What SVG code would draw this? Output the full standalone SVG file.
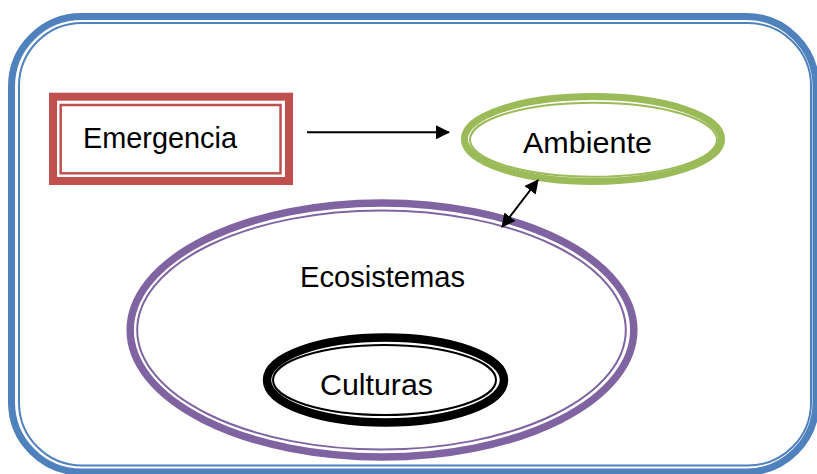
<svg xmlns="http://www.w3.org/2000/svg" width="817" height="474" viewBox="0 0 817 474">
<defs>
<style>
.lbl{font-family:"Comic Sans MS","Liberation Sans",sans-serif;font-size:29px;fill:#000}
.conn{stroke:#000;stroke-width:2;fill:none}
</style>
<marker id="ah" viewBox="0 0 14 14" refX="13" refY="7" markerWidth="14" markerHeight="14" markerUnits="userSpaceOnUse" orient="auto-start-reverse">
<path d="M0,0 L14,7 L0,14 Z" fill="#000"/>
</marker>
</defs>
<rect width="817" height="474" fill="#fff"/>
<g id="frame">
<rect x="11.5" y="16.5" width="804.5" height="455.5" rx="70" ry="70" fill="none" stroke="#4F81BD" stroke-width="7"/>
<rect x="19" y="23" width="792" height="442.5" rx="63" ry="63" fill="none" stroke="#4F81BD" stroke-width="2"/>
</g>
<g id="emergencia">
<rect x="53" y="96.7" width="236" height="84.3" fill="none" stroke="#C0504D" stroke-width="8"/>
<rect x="60.7" y="105" width="219.8" height="68.3" fill="none" stroke="#C0504D" stroke-width="2.5"/>
<text class="lbl" x="83" y="148" textLength="154" lengthAdjust="spacingAndGlyphs">Emergencia</text>
</g>
<g id="ambiente">
<ellipse cx="593" cy="139" rx="128.6" ry="42.4" fill="none" stroke="#9BBB59" stroke-width="7"/>
<ellipse cx="593.5" cy="139.7" rx="123.5" ry="37" fill="none" stroke="#9BBB59" stroke-width="2"/>
<text class="lbl" x="523" y="153" textLength="129" lengthAdjust="spacingAndGlyphs">Ambiente</text>
</g>
<g id="ecosistemas">
<ellipse cx="382" cy="330" rx="251.8" ry="127" fill="none" stroke="#8064A2" stroke-width="7.5"/>
<ellipse cx="381.5" cy="330" rx="244.3" ry="119.5" fill="none" stroke="#8064A2" stroke-width="2"/>
<text class="lbl" x="300" y="287" textLength="165" lengthAdjust="spacingAndGlyphs">Ecosistemas</text>
</g>
<g id="culturas">
<ellipse cx="385.5" cy="380" rx="118.5" ry="42.5" fill="none" stroke="#000" stroke-width="8.5"/>
<ellipse cx="384.5" cy="380" rx="111.5" ry="35" fill="none" stroke="#000" stroke-width="2"/>
<text class="lbl" x="320" y="395" textLength="113" lengthAdjust="spacingAndGlyphs">Culturas</text>
</g>
<g id="connectors">
<line class="conn" x1="307" y1="132.3" x2="449" y2="132.3" marker-end="url(#ah)"/>
<line class="conn" x1="502" y1="227" x2="538" y2="180" marker-start="url(#ah)" marker-end="url(#ah)"/>
</g>
</svg>
